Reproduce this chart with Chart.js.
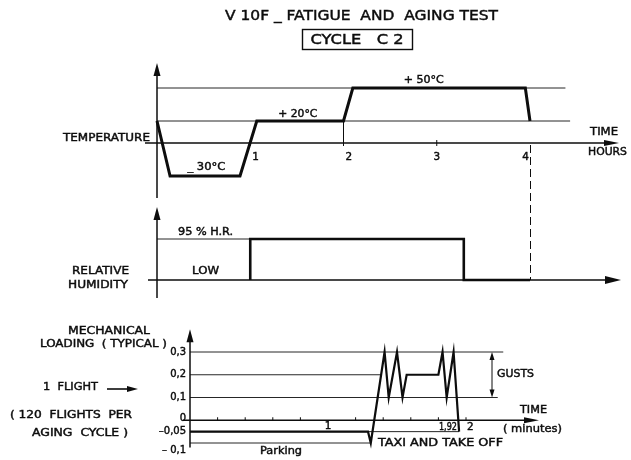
<!DOCTYPE html>
<html>
<head>
<meta charset="utf-8">
<script src="https://cdn.jsdelivr.net/npm/chart.js@4.4.1/dist/chart.umd.min.js"></script>
<style>
  html, body { margin: 0; padding: 0; background: #fff; }
  #wrap { position: relative; width: 631px; height: 460px; }
  #wrap canvas { position: absolute; left: 0; top: 0; }
</style>
</head>
<body>
<div id="wrap">
  <canvas id="tempChart" width="631" height="460"></canvas>
  <canvas id="humChart" width="631" height="460"></canvas>
  <canvas id="mechChart" width="631" height="460"></canvas>
</div>
<script>
// --- temperature cycle (hours / deg C)
const tempHours  = [0, 0.14, 0.89, 1.07, 2.0, 2.1, 3.95, 4.0];
const tempValues = [20, -30, -30, 20, 20, 50, 50, 20];
const tempLevels = [50, 20];
const tempLevelEnds = [4.38, 4.43];
const hourTicks = [1, 2, 3, 4];

// --- relative humidity (hours / % H.R.)
const humHours  = [1, 1, 3.29, 3.29, 4];
const humValues = [0, 95, 95, 0, 0];

// --- mechanical loading, one flight (minutes / load)
const flightMinutes = [0, 1.29, 1.31, 1.41, 1.44, 1.50, 1.54, 1.57, 1.80, 1.83, 1.86, 1.91, 1.95];
const flightLoads   = [-0.05, -0.05, -0.1, 0.3, 0.1, 0.3, 0.1, 0.2, 0.2, 0.3, 0.1, 0.3, -0.05];
const loadLevels    = [0.3, 0.2, 0.1, -0.05, -0.1];
const loadLevelEnds = [2.27, 1.38, 2.23, 1.95, 1.31];
const loadTicks      = [0.3, 0.2, 0.1, 0, -0.05, -0.1];
const loadTickLabels = ['0,3', '0,2', '0,1', '0', '\u20130,05', '\u2013 0,1'];
const minuteTicks = [0.2, 0.4, 0.6, 0.8, 1.2, 1.4, 1.6, 1.8, 2.0];

const INK = '#0d0d0d';
const FONT = '"DejaVu Sans", sans-serif';

function zip(xs, ys) {
  return xs.map((x, i) => ({ x: x, y: ys[i] }));
}

// text squeezed to the width it has in the drawing, a thin outline makes it a bit heavier
function txt(ctx, s, x, y, size, align, w) {
  ctx.save();
  ctx.font = size + 'px ' + FONT;
  ctx.fillStyle = INK;
  ctx.strokeStyle = INK;
  ctx.lineWidth = 0.45;
  ctx.textBaseline = 'middle';
  ctx.textAlign = 'left';
  const m = ctx.measureText(s).width;
  const sx = w ? w / m : 0.95;
  const width = m * sx;
  const left = align === 'center' ? x - width / 2 : (align === 'right' ? x - width : x);
  ctx.translate(left, y);
  ctx.scale(sx, 1);
  ctx.fillText(s, 0, 0);
  ctx.strokeText(s, 0, 0);
  ctx.restore();
}

function seg(ctx, x1, y1, x2, y2, w, dash) {
  ctx.save();
  ctx.strokeStyle = INK;
  ctx.lineWidth = w;
  if (dash) ctx.setLineDash(dash);
  ctx.beginPath();
  ctx.moveTo(x1, y1);
  ctx.lineTo(x2, y2);
  ctx.stroke();
  ctx.restore();
}

function arrow(ctx, tx, ty, dx, dy, len, half) {
  const bx = tx - dx * len, by = ty - dy * len;
  ctx.save();
  ctx.fillStyle = INK;
  ctx.beginPath();
  ctx.moveTo(tx, ty);
  ctx.lineTo(bx - dy * half, by + dx * half);
  ctx.lineTo(bx + dy * half, by - dx * half);
  ctx.closePath();
  ctx.fill();
  ctx.restore();
}

function signal(data, w) {
  return { data: data, borderColor: INK, borderWidth: w, pointRadius: 0, tension: 0,
           fill: false, clip: false, borderJoinStyle: 'miter' };
}

function levelSets(levels, ends) {
  return levels.map((lv, i) => signal([{ x: 0, y: lv }, { x: ends[i], y: lv }], 0.9));
}

function baseOptions(padding, xr, yr) {
  return {
    responsive: false,
    animation: false,
    layout: { padding: padding },
    plugins: { legend: { display: false }, tooltip: { enabled: false } },
    events: [],
    scales: {
      x: { type: 'linear', display: false, min: xr[0], max: xr[1] },
      y: { type: 'linear', display: false, min: yr[0], max: yr[1] }
    }
  };
}

// ---------------- temperature
const tempDeco = {
  id: 'tempDeco',
  afterDatasetsDraw(chart) {
    const ctx = chart.ctx, x = chart.scales.x, y = chart.scales.y;
    const ox = x.getPixelForValue(0), oy = y.getPixelForValue(0);

    // title
    txt(ctx, 'V 10F _ FATIGUE  AND  AGING TEST', 361.5, 16, 14, 'center', 273);
    ctx.save();
    ctx.strokeStyle = INK; ctx.lineWidth = 1.4;
    ctx.strokeRect(302.5, 29.5, 110, 20);
    ctx.restore();
    txt(ctx, 'CYCLE   C 2', 357, 40, 14, 'center', 93);

    // axes
    seg(ctx, ox, oy + 55, ox, oy - 72, 1.5);
    arrow(ctx, ox, oy - 80, 0, -1, 13, 3.5);
    seg(ctx, ox - 12, oy, 606, oy, 1.5);
    arrow(ctx, 619, oy, 1, 0, 15, 3);

    hourTicks.forEach((h, i) => {
      const px = x.getPixelForValue(h);
      if (h < 4) seg(ctx, px, oy - 3, px, oy + 3, 1);
      const al = ['left', 'left', 'center', 'right'][i];
      const dx = al === 'left' ? 2 : (al === 'right' ? -1 : 0);
      txt(ctx, String(h), px + dx, oy + 14, 11, al);
    });

    // connector at 2 h
    seg(ctx, x.getPixelForValue(2), y.getPixelForValue(20), x.getPixelForValue(2), oy, 1);

    // dashed line down to humidity axis at 4 h
    const p4 = Math.round(x.getPixelForValue(4)) + 0.5;
    const hy = humChart.scales.y.getPixelForValue(0);
    seg(ctx, p4, oy + 2, p4, hy, 1, [8, 4]);

    // labels
    txt(ctx, '+ 50\u00b0C', x.getPixelForValue(2.86), y.getPixelForValue(50) - 8, 11, 'center', 40);
    txt(ctx, '+ 20\u00b0C', x.getPixelForValue(1.51), y.getPixelForValue(20) - 7, 11, 'center', 39);
    txt(ctx, '_ 30\u00b0C', x.getPixelForValue(0.53), y.getPixelForValue(-30) - 9, 11, 'center', 38);
    txt(ctx, 'TEMPERATURE', 150, oy - 5, 11, 'right', 87);
    txt(ctx, 'TIME', 590, oy - 11, 11, 'left', 28);
    txt(ctx, 'HOURS', 588, oy + 9, 11, 'left', 39);
  }
};

// ---------------- humidity
const humDeco = {
  id: 'humDeco',
  afterDatasetsDraw(chart) {
    const ctx = chart.ctx, x = chart.scales.x, y = chart.scales.y;
    const ox = x.getPixelForValue(0), oy = y.getPixelForValue(0);
    seg(ctx, ox, oy + 18, ox, oy - 64, 1.5);
    arrow(ctx, ox, oy - 73, 0, -1, 13, 3.5);
    seg(ctx, ox - 9, oy, 606, oy, 1.5);
    arrow(ctx, 621, oy, 1, 0, 16, 4);

    txt(ctx, '95 % H.R.', 178, y.getPixelForValue(95) - 7, 11, 'left', 55);
    txt(ctx, 'LOW', 192, oy - 9, 11, 'left', 27);
    txt(ctx, 'RELATIVE', 129, oy - 9, 11, 'right', 57);
    txt(ctx, 'HUMIDITY', 128, oy + 5, 11, 'right', 60);
  }
};

// ---------------- mechanical loading
const mechDeco = {
  id: 'mechDeco',
  afterDatasetsDraw(chart) {
    const ctx = chart.ctx, x = chart.scales.x, y = chart.scales.y;
    const ox = x.getPixelForValue(0), oy = y.getPixelForValue(0);

    seg(ctx, ox, y.getPixelForValue(-0.12), ox, y.getPixelForValue(0.36), 1.5);
    arrow(ctx, ox, y.getPixelForValue(0.4), 0, -1, 13, 3.5);
    seg(ctx, ox - 7, oy, 526, oy, 1.5);
    arrow(ctx, 539, oy, 1, 0, 15, 3);

    minuteTicks.forEach(m => {
      const px = x.getPixelForValue(m);
      seg(ctx, px, oy - 3, px, oy, 1);
    });
    txt(ctx, '1', x.getPixelForValue(1), oy + 6, 11, 'center');
    txt(ctx, '2', x.getPixelForValue(2) + 1, oy + 7, 11, 'left');
    txt(ctx, '1,92', x.getPixelForValue(1.92) + 2, oy + 7, 10, 'right', 18);

    loadTicks.forEach((v, i) => {
      const dy = v === -0.1 ? 7 : (v === 0 ? -2 : 0);
      txt(ctx, loadTickLabels[i], 186, y.getPixelForValue(v) + dy, 10.5, 'right');
    });

    // gusts bracket
    const gx = 492, g1 = y.getPixelForValue(0.3), g2 = y.getPixelForValue(0.1);
    seg(ctx, gx, g1 + 6, gx, g2 - 6, 1);
    arrow(ctx, gx, g1, 0, -1, 8, 2.5);
    arrow(ctx, gx, g2, 0, 1, 8, 2.5);
    txt(ctx, 'GUSTS', 497, y.getPixelForValue(0.2) - 1, 11, 'left', 37);

    txt(ctx, 'TIME', 520, oy - 10, 11, 'left', 27);
    txt(ctx, '( minutes)', 503, oy + 9, 11, 'left', 59);
    txt(ctx, 'TAXI AND TAKE OFF', 378, y.getPixelForValue(-0.1), 11, 'left', 125);
    txt(ctx, 'Parking', 260, 451, 11, 'left', 42);

    txt(ctx, 'MECHANICAL', 150, 331, 11, 'right', 82);
    txt(ctx, 'LOADING  ( TYPICAL )', 167, 344, 11, 'right', 127);
    txt(ctx, '1  FLIGHT', 43, 387, 11, 'left', 55);
    seg(ctx, 107, 389, 128, 389, 1.6);
    arrow(ctx, 138, 389, 1, 0, 11, 3);
    txt(ctx, '( 120  FLIGHTS  PER', 10, 415, 11, 'left', 122);
    txt(ctx, 'AGING  CYCLE )', 32, 433, 11, 'left', 96);
  }
};

const humChart = new Chart(document.getElementById('humChart'), {
  type: 'line',
  data: { datasets: [
    signal(zip(humHours, humValues), 2.6),
    signal([{ x: 0, y: 95 }, { x: 1, y: 95 }], 0.9)
  ] },
  options: baseOptions({ left: 157, right: 101, top: 239, bottom: 180 }, [0, 4], [0, 95]),
  plugins: [humDeco]
});

const tempChart = new Chart(document.getElementById('tempChart'), {
  type: 'line',
  data: { datasets: [signal(zip(tempHours, tempValues), 3)].concat(levelSets(tempLevels, tempLevelEnds)) },
  options: baseOptions({ left: 157, right: 101, top: 88, bottom: 284 }, [0, 4], [-30, 50]),
  plugins: [tempDeco]
});

const mechChart = new Chart(document.getElementById('mechChart'), {
  type: 'line',
  data: { datasets: [signal(zip(flightMinutes, flightLoads), 2.2)].concat(levelSets(loadLevels, loadLevelEnds)) },
  options: baseOptions({ left: 190, right: 165, top: 352, bottom: 17 }, [0, 2], [-0.1, 0.3]),
  plugins: [mechDeco]
});
</script>
</body>
</html>
